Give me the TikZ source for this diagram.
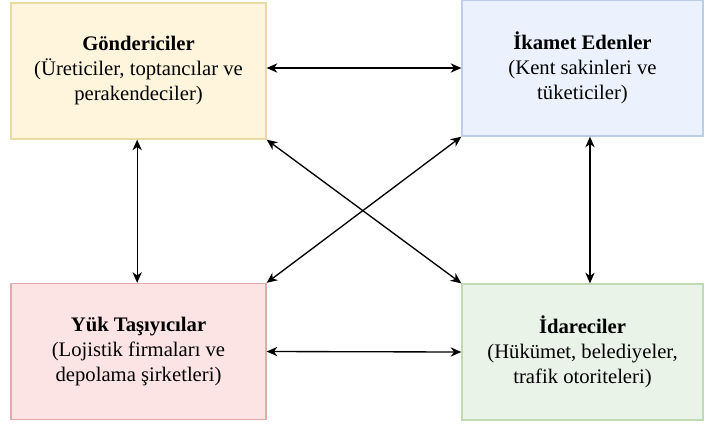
\documentclass[tikz,border=0pt]{standalone}
\usepackage{fontspec}
\setmainfont{Liberation Serif}
\usepackage{tikz}
\usetikzlibrary{positioning}
\usetikzlibrary{arrows.meta}

\definecolor{gonfill}{HTML}{FFF5DD}
\definecolor{gondraw}{HTML}{EAD9A2}
\definecolor{ikfill}{HTML}{EBF2FD}
\definecolor{ikdraw}{HTML}{BBCDE8}
\definecolor{yukfill}{HTML}{FBE4E3}
\definecolor{yukdraw}{HTML}{E2ABA9}
\definecolor{idfill}{HTML}{E9F3E8}
\definecolor{iddraw}{HTML}{C0DAB4}

\begin{document}
\begin{tikzpicture}[>={Stealth[length=8pt,width=7pt,inset=2.5pt]},
	x=0.75pt,y=-0.75pt,line width=1pt,
	box/.style={rectangle,draw,line width=1pt,align=center,inner sep=2pt,
		minimum height=102pt,font=\fontsize{15.5}{18.75}\selectfont},
	wide box/.style={box,minimum width=191.25pt},
	narrow box/.style={box,minimum width=180.75pt}]
	
	\useasboundingbox (0,0) rectangle (706,425);
	
	\node[wide box,fill=gonfill,draw=gondraw] (gon) at (138.5,71)
	{\textbf{Göndericiler}\\(Üreticiler, toptancılar ve\\perakendeciler)};
	\node[narrow box,fill=ikfill,draw=ikdraw] (ikamet) at (582.5,68)
	{\textbf{İkamet Edenler}\\(Kent sakinleri ve\\tüketiciler)};
	\node[wide box,fill=yukfill,draw=yukdraw] (yuk) at (138.5,351.5)
	{\textbf{Yük Taşıyıcılar}\\(Lojistik firmaları ve\\depolama şirketleri)};
	\node[narrow box,fill=idfill,draw=iddraw] (idare) at (582.5,352)
	{\textbf{İdareciler}\\(Hükümet, belediyeler,\\trafik otoriteleri)};
	
	\path[<->]
	(gon.east |- ikamet.west) edge (ikamet.west)
	([xshift=-1pt]gon.south) edge ([xshift=-1pt]yuk.north)
	([xshift=5.6pt]ikamet.south) edge ([xshift=5.6pt]idare.north)
	(yuk.east) edge (idare.west)
	(gon.south east) edge (idare.north west)
	(yuk.north east) edge (ikamet.south west);
\end{tikzpicture}
\end{document}
